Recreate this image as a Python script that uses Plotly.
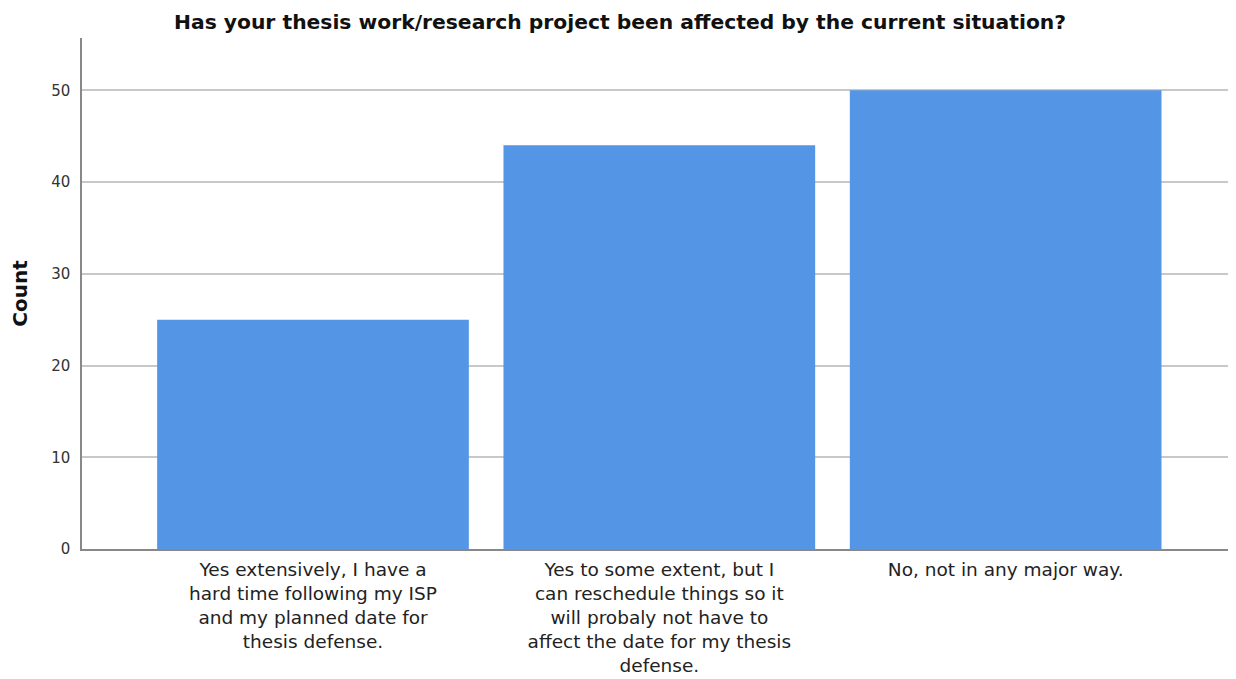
import plotly.graph_objects as go

categories = [
    "Yes extensively, I have a<br>hard time following my ISP<br>and my planned date for<br>thesis defense.",
    "Yes to some extent, but I<br>can reschedule things so it<br>will probaly not have to<br>affect the date for my thesis<br>defense.",
    "No, not in any major way.",
]
counts = [25, 44, 50]
y_ticks = [0, 10, 20, 30, 40, 50]

positions = list(range(len(categories)))

# The page body has an 8px margin; size the figure so it fits inside the window.
W, H = 1220, 671

fig = go.Figure(
    go.Bar(
        x=positions,
        y=counts,
        width=0.9,
        marker=dict(color="#5595e5", line=dict(width=0)),
    )
)

fig.update_layout(
    width=W,
    height=H,
    margin=dict(l=74, r=0, t=30, b=130, autoexpand=False),
    paper_bgcolor="white",
    plot_bgcolor="white",
    font=dict(family="DejaVu Sans", color="#222222"),
    title=dict(
        text="<b>Has your thesis work/research project been affected by the current situation?</b>",
        x=612 / W,
        xanchor="center",
        y=1 - 14 / H,
        yanchor="middle",
        font=dict(size=20.3, color="#111111"),
    ),
    showlegend=False,
)

fig.update_xaxes(
    range=[-0.667, 2.642],
    tickmode="array",
    tickvals=positions,
    ticktext=categories,
    tickfont=dict(size=18.5, color="#222222"),
    ticklabelstandoff=3,
    showgrid=False,
    showline=True,
    linecolor="#888888",
    linewidth=2,
    ticks="",
    zeroline=False,
)

fig.update_yaxes(
    range=[0, 55.7],
    tickmode="array",
    tickvals=y_ticks,
    tickfont=dict(size=15, color="#333333"),
    ticklabelstandoff=7,
    showgrid=True,
    gridcolor="#c8c8c8",
    gridwidth=1.5,
    showline=True,
    linecolor="#888888",
    linewidth=1.5,
    ticks="",
    zeroline=False,
    title=dict(text="<b>Count</b>", font=dict(size=20, color="#111111"), standoff=19),
)

fig.write_html("out.html")
